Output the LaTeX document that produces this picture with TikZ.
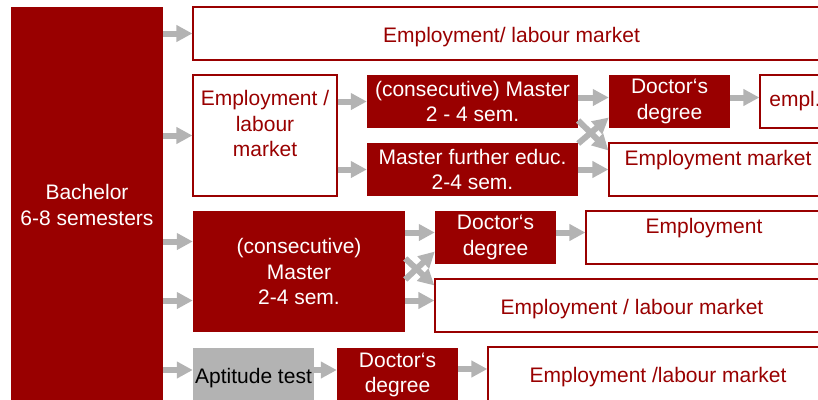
\documentclass[tikz,border=0pt]{standalone}
\usepackage{fontspec}
\setmainfont{Liberation Sans}
\usetikzlibrary{arrows.meta}
\definecolor{unired}{HTML}{990000}
\definecolor{flowgray}{HTML}{B3B3B3}

\begin{document}
\begin{tikzpicture}[x=1pt,y=-1pt,font=\fontsize{21}{25.5}\selectfont,
  darkbox/.style={fill=unired,text=white,align=center,inner sep=2pt,minimum height=53pt},
  whitebox/.style={draw=unired,line width=1.2pt,fill=white,text=unired,align=center,inner sep=2pt,minimum height=53pt},
  testbox/.style={fill=flowgray,text=black,align=center,inner sep=0pt,minimum height=54pt},
  flow/.style={draw=flowgray,line width=6pt,-{Triangle[length=16pt,width=16pt]}}]

\useasboundingbox (0,0) rectangle (818,399);
\clip (0,0) rectangle (818,399);

% ---- bachelor and the first path ----
\node[darkbox,minimum width=152pt,minimum height=396pt] (bach) at (87,205) {Bachelor\\6-8 semesters};
\node[whitebox,minimum width=637pt,text height=22pt] (lab1) at (511.5,33.5) {Employment/ labour market};

% ---- second row: employment first ----
\node[whitebox,minimum width=144pt,minimum height=121pt,text depth=24pt] (lab2) at (265,135.5) {Employment /\\labour\\market};
\node[darkbox,minimum width=211pt] (mast1) at (472.5,101.5) {(consecutive) Master\\2 - 4 sem.};
\node[darkbox,minimum width=211pt] (furt) at (472.5,169.5) {Master further educ.\\2-4 sem.};
\node[darkbox,minimum width=121pt] (doc1) at (669.5,101.5) {Doctor‘s\\degree};
\node[whitebox,minimum width=70pt] (empl) at (795,101.5) {empl.};
\node[whitebox,minimum width=218pt,text depth=24pt] (lab3) at (718,169.5) {Employment market};

% ---- third row: consecutive master ----
\node[darkbox,minimum width=212pt,minimum height=121pt] (mast2) at (299,271.5) {(consecutive)\\Master\\2-4 sem.};
\node[darkbox,minimum width=121pt] (doc2) at (495.5,237.5) {Doctor‘s\\degree};
\node[whitebox,minimum width=236pt,text depth=24pt] (lab4) at (704,237.5) {Employment};
\node[whitebox,minimum width=394pt,text height=22pt] (lab5) at (632,305.5) {Employment / labour market};

% ---- fourth row: aptitude test ----
\node[testbox,minimum width=121pt,text height=21pt] (apt) at (253.5,375) {Aptitude test};
\node[darkbox,minimum width=121pt,minimum height=54pt] (doc3) at (397.5,375) {Doctor‘s\\degree};
\node[whitebox,minimum width=340pt,minimum height=54pt,text height=21pt] (lab6) at (658,374) {Employment /labour market};

% ---- arrow ends off the centre line ----
\coordinate (m2up) at ([yshift=30pt]mast2.west);
\coordinate (m2dn) at ([yshift=-29pt]mast2.west);
\coordinate (d1in) at ([yshift=4pt]doc1.west);
\coordinate (d2in) at ([yshift=5pt]doc2.west);
\coordinate (l5in) at ([yshift=5pt]lab5.west);
\coordinate (r4a) at ([yshift=5pt]apt.west);
\coordinate (r4b) at ([yshift=5pt]doc3.west);
\coordinate (r4c) at ([yshift=5pt]lab6.west);

% ---- arrows out of the bachelor ----
\draw[flow] (bach.east |- lab1.west) -- (lab1.west);
\draw[flow] (bach.east |- lab2.west) -- (lab2.west);
\draw[flow] (bach.east |- m2up) -- (m2up);
\draw[flow] (bach.east |- m2dn) -- (m2dn);
\draw[flow] (bach.east |- r4a) -- (r4a);

% second row
\draw[flow] (lab2.east |- mast1.west) -- (mast1.west);
\draw[flow] (lab2.east |- furt.west) -- (furt.west);
\draw[flow] (mast1.east |- d1in) -- (d1in);
\draw[flow] (furt.east |- lab3.west) -- (lab3.west);
\draw[flow] ([yshift=-19pt]mast1.east) -- ([yshift=19pt]lab3.west);
\draw[flow] ([yshift=26pt]furt.east) -- ([yshift=-16pt]doc1.west);
\draw[flow] (doc1.east |- d1in) -- (empl.west |- d1in);

% third row
\draw[flow] (mast2.east |- d2in) -- (d2in);
\draw[flow] (mast2.east |- l5in) -- (l5in);
\draw[flow] ([yshift=13pt]mast2.east) -- ([yshift=20pt]lab5.west);
\draw[flow] ([yshift=-8pt]mast2.east) -- ([yshift=-14pt]doc2.west);
\draw[flow] (doc2.east |- d2in) -- (lab4.west |- d2in);

% fourth row
\draw[flow] (apt.east |- r4b) -- (r4b);
\draw[flow] (doc3.east |- r4c) -- (r4c);

\end{tikzpicture}
\end{document}
